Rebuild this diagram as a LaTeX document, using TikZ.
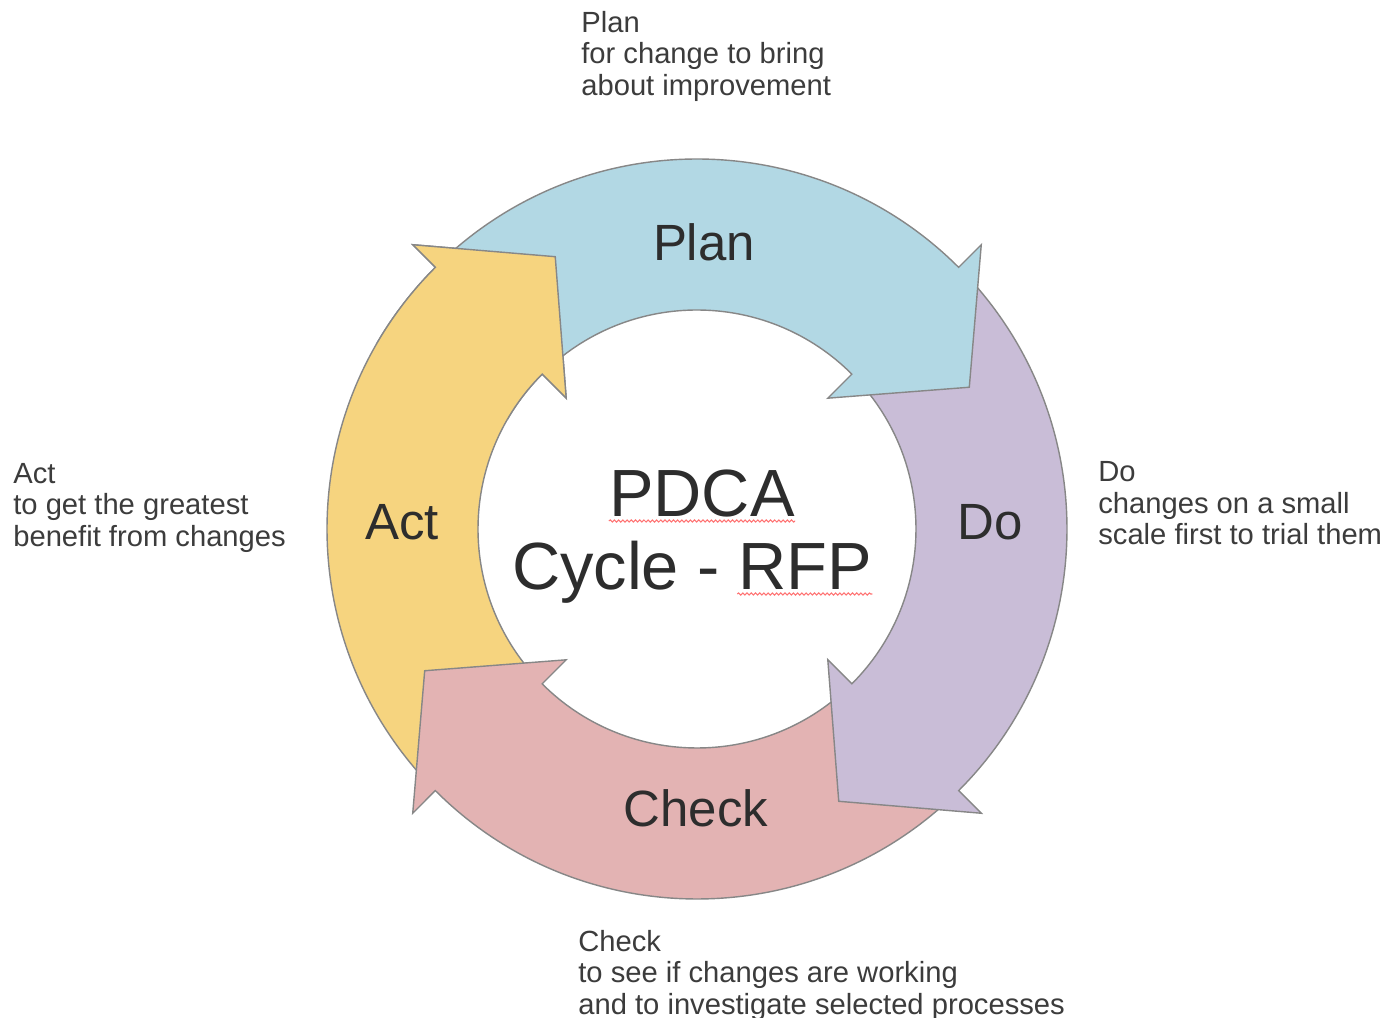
\documentclass[tikz,border=0pt]{standalone}
\usepackage{fontspec}
\setmainfont{Liberation Sans}
\usepackage{tikz}
\usetikzlibrary{decorations.pathmorphing}

\definecolor{planblue}{RGB}{178,216,228}
\definecolor{dopurple}{RGB}{201,189,215}
\definecolor{checkpink}{RGB}{227,179,179}
\definecolor{actyellow}{RGB}{246,212,127}
\definecolor{edgegray}{RGB}{135,135,135}
\definecolor{textgray}{RGB}{45,45,45}
\definecolor{notegray}{RGB}{60,60,60}

% one curved arrow of the ring: style, tail angle, head angle
\newcommand{\ringarrow}[3]{%
  \draw[#1] (#2:4.38) -- (#2:7.4) arc[start angle=#2, end angle=#3, radius=7.4]
    -- (#3:8.04) -- ({#3-17.5}:6.14) -- (#3:3.7) -- (#3:4.38)
    arc[start angle=#3, end angle=#2, radius=4.38] -- cycle;}

\begin{document}
\begin{tikzpicture}

  \tikzset{band/.style = {draw=edgegray, line width=0.8pt, line join=miter}}
  \tikzset{bandlabel/.style = {text=textgray, font=\fontsize{29}{34}\selectfont}}
  \tikzset{centrelabel/.style = {text=textgray, inner sep=0pt, anchor=base, font=\fontsize{38}{42}\selectfont}}
  \tikzset{note/.style = {text=notegray, anchor=north west, inner sep=0pt, align=left, font=\fontsize{16.6}{17.9}\selectfont}}
  \tikzset{spell/.style = {draw=red!55, line width=0.6pt, decorate, decoration={snake, amplitude=0.6pt, segment length=2.4pt}}}

  \fill[white] (-13.94,-9.78) rectangle (13.92,10.58);
  \useasboundingbox (-13.94,-9.78) rectangle (13.92,10.58);

  % ring of arrows
  \ringarrow{band, fill=actyellow}{-138}{-225}
  \ringarrow{band, fill=checkpink}{-48}{-135}
  \ringarrow{band, fill=dopurple}{42}{-45}
  \ringarrow{band, fill=planblue}{132}{45}
  % act head lies over the plan tail
  \begin{scope}
    \clip (0,0) -- (112:9.5) -- (150:9.5) -- cycle;
    \ringarrow{band, fill=actyellow}{-138}{-225}
  \end{scope}

  % labels on the ring
  \node[bandlabel] (plan)  at (0.14,5.74)   {Plan};
  \node[bandlabel] (do)    at (5.86,0.14)   {Do};
  \node[bandlabel] (check) at (-0.02,-5.58) {Check};
  \node[bandlabel] (act)   at (-5.9,0.14)   {Act};

  % centre
  \node[centrelabel] (pdca)  at (0.1,0.24)   {PDCA};
  \node[centrelabel] (cycle) at (-0.1,-1.22) {Cycle - RFP};
  \draw[spell] ([yshift=-0.08cm]pdca.base west) -- ([yshift=-0.08cm]pdca.base east);
  \draw[spell] ([xshift=-2.7cm,yshift=-0.08cm]cycle.base east) -- ([yshift=-0.08cm]cycle.base east);

  % notes around the ring
  \node[note] (plannote)  at (-2.32,10.36)  {Plan\\for change to bring\\about improvement};
  \node[note] (donote)    at (8.02,1.35)    {Do\\changes on a small\\scale first to trial them};
  \node[note] (checknote) at (-2.38,-8.02)  {Check\\to see if changes are working\\and to investigate selected processes};
  \node[note] (actnote)   at (-13.68,1.32)  {Act\\to get the greatest\\benefit from changes};

\end{tikzpicture}
\end{document}
